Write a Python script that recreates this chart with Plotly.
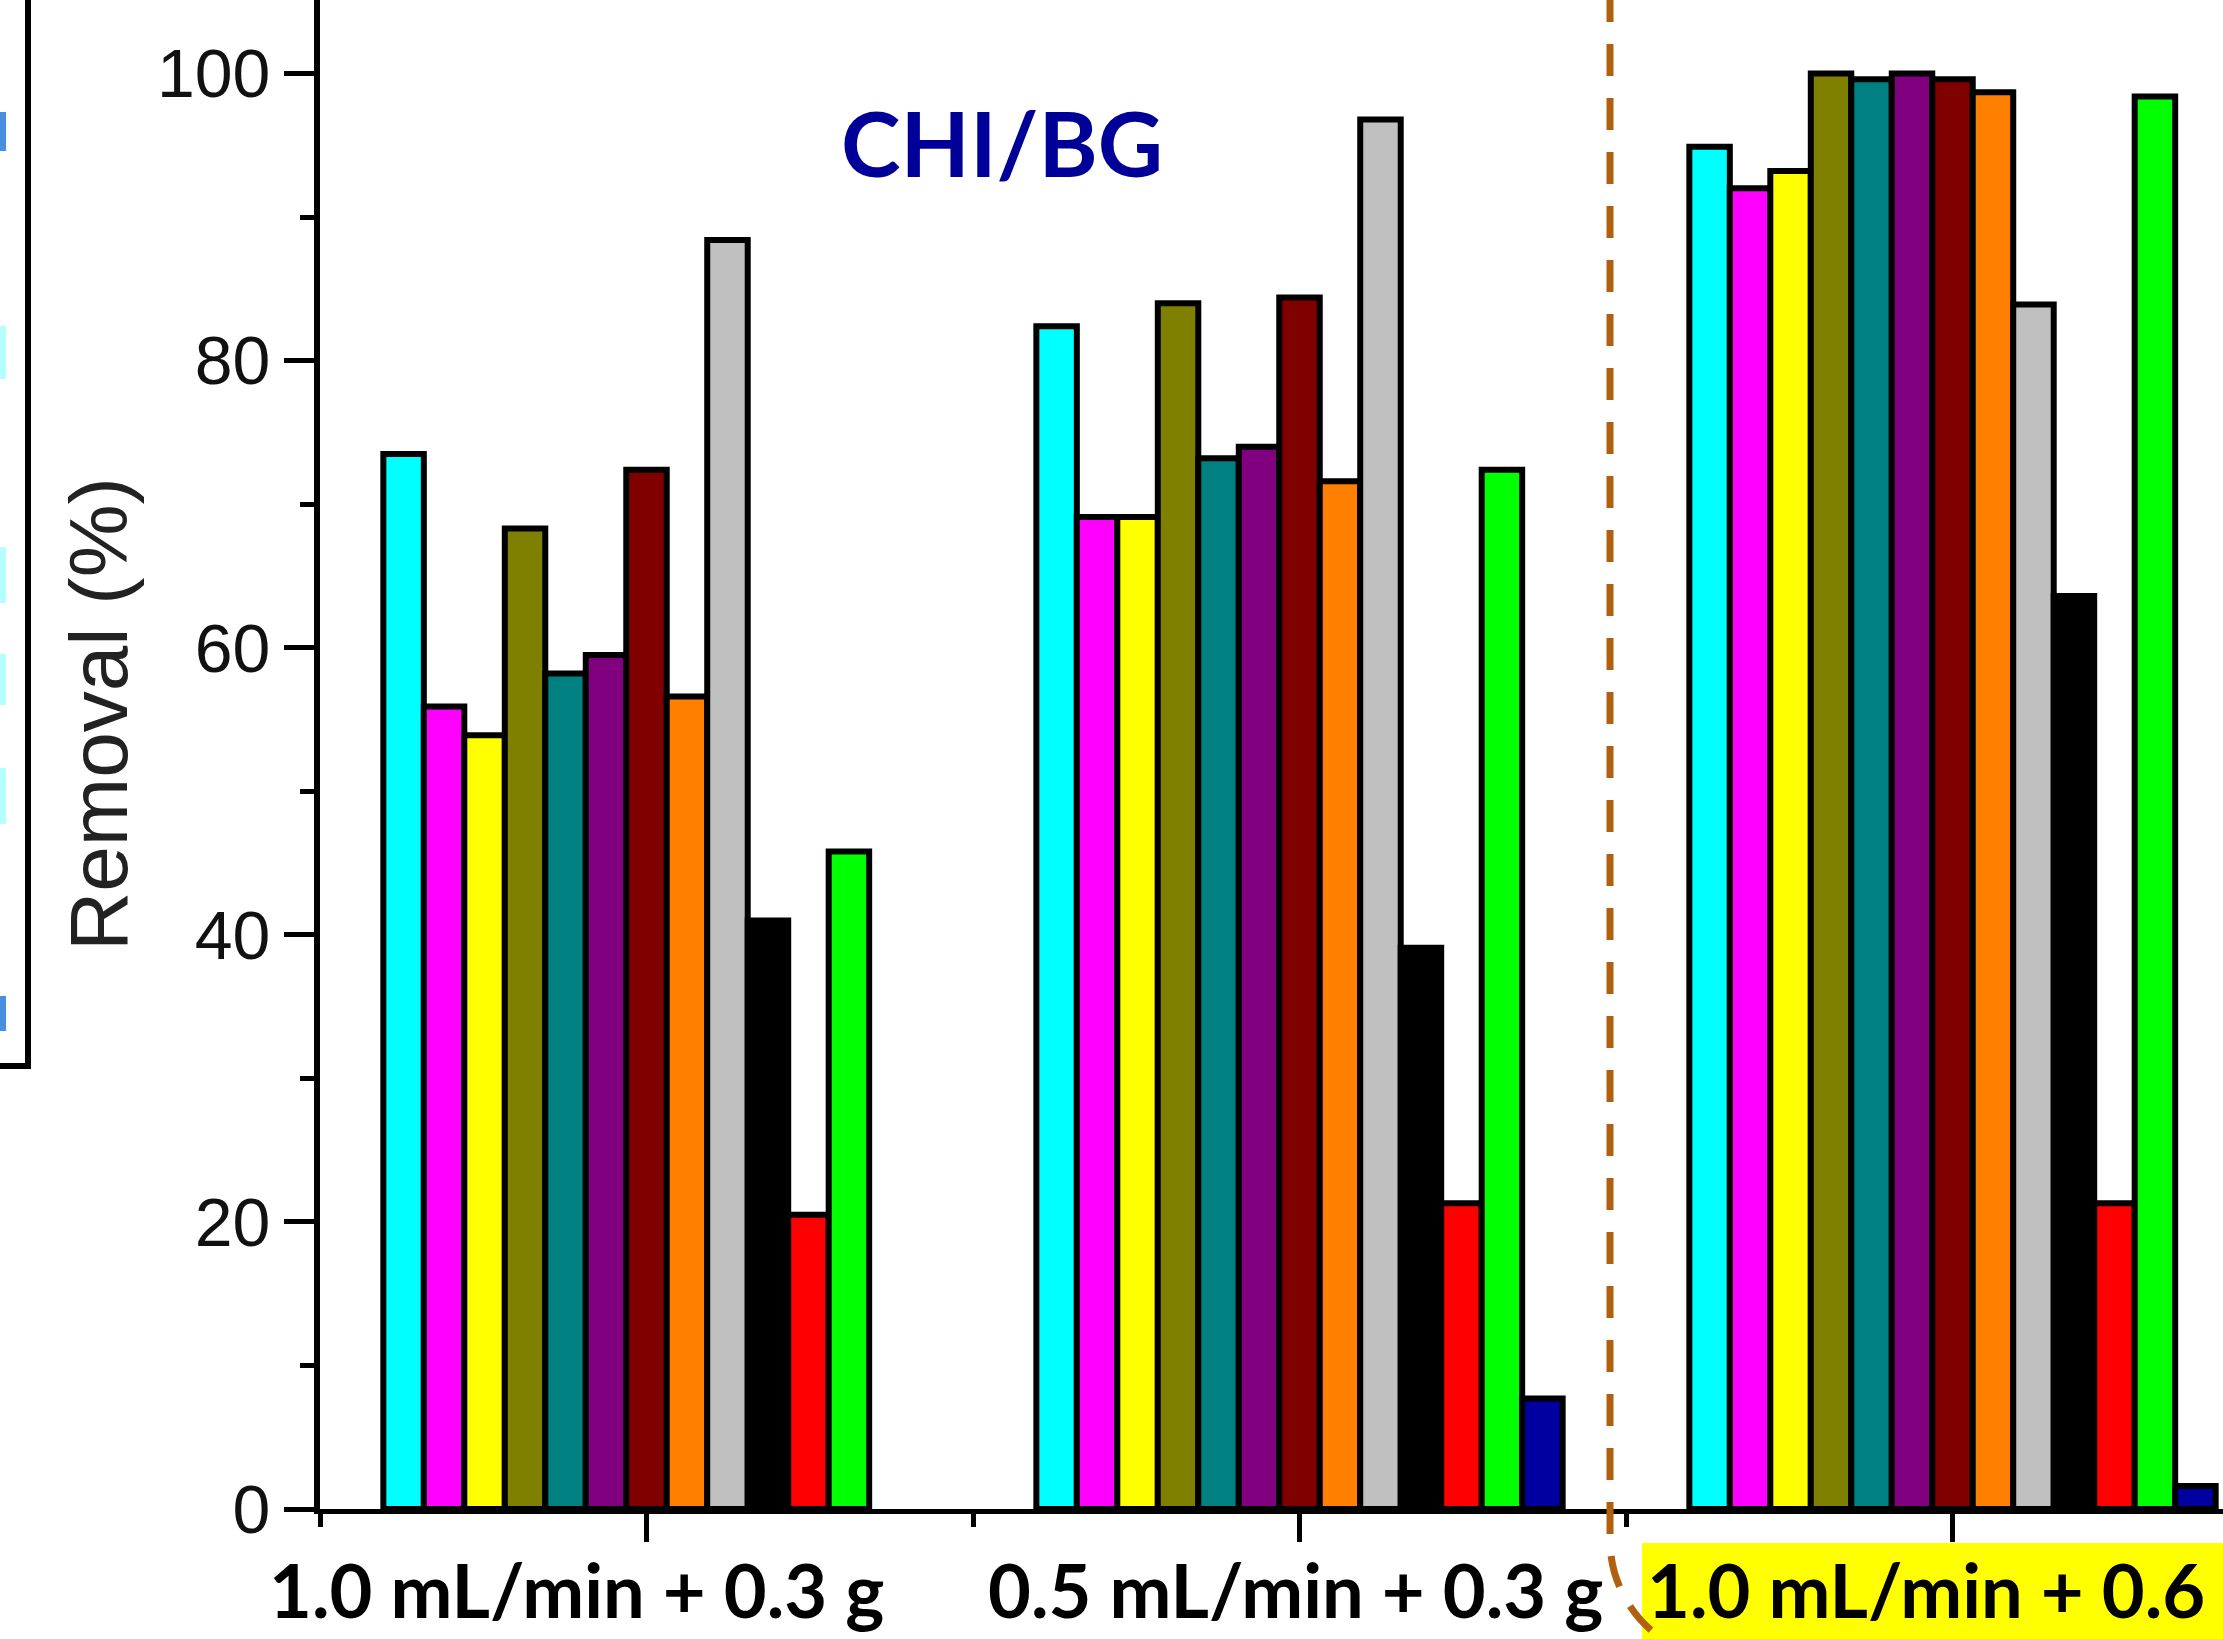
import plotly.graph_objects as go

# ---- data ----
groups = [0, 1, 2]
group_labels = ["1.0 mL/min + 0.3 g", "0.5 mL/min + 0.3 g", "1.0 mL/min + 0.6 g"]
series_colors = ["#00FFFF", "#FF00FF", "#FFFF00", "#808000", "#008080", "#800080",
                 "#800000", "#FF8000", "#C0C0C0", "#000000", "#FF0000", "#00FF00", "#0000A0"]
s_cyan    = [73.5, 82.4, 94.9]
s_magenta = [55.9, 69.1, 92.0]
s_yellow  = [53.9, 69.1, 93.2]
s_olive   = [68.3, 84.0, 100.0]
s_teal    = [58.2, 73.2, 99.6]
s_purple  = [59.5, 74.0, 100.0]
s_maroon  = [72.4, 84.4, 99.6]
s_orange  = [56.6, 71.6, 98.7]
s_silver  = [88.4, 96.8, 83.9]
s_black   = [41.0, 39.1, 63.6]
s_red     = [20.5, 21.3, 21.3]
s_lime    = [45.8, 72.4, 98.4]
s_navy    = [None, 7.7, 1.6]
series = [s_cyan, s_magenta, s_yellow, s_olive, s_teal, s_purple, s_maroon,
          s_orange, s_silver, s_black, s_red, s_lime, s_navy]
y_ticks = [0, 20, 40, 60, 80, 100]

W, H = 2223, 1639
L, R, T, B = 320, 0, 0, 130
PW, PH = W - L - R, H - T - B

def X(px):
    return (px - L) / PW

def Y(py):
    return (H - B - py) / PH

fig = go.Figure()
for vals, col in zip(series, series_colors):
    fig.add_trace(go.Bar(x=groups, y=vals, marker=dict(color=col, line=dict(color="black", width=6)),
                         showlegend=False))

px_per_unit = 14.355
fig.update_layout(
    width=W, height=H,
    margin=dict(l=L, r=R, t=T, b=B, pad=0, autoexpand=False),
    paper_bgcolor="white", plot_bgcolor="white",
    barmode="group", bargap=0.194, bargroupgap=0,
    xaxis=dict(range=[-0.5, -0.5 + PW / 653.0], showgrid=False, zeroline=False,
               showline=True, linecolor="black", linewidth=5,
               tickmode="linear", tick0=0, dtick=1, ticks="outside", ticklen=28,
               tickwidth=5, tickcolor="black", showticklabels=False,
               minor=dict(tickmode="linear", tick0=-0.5, dtick=1, ticks="outside",
                          ticklen=13, tickwidth=5, tickcolor="black"),
               automargin=False),
    yaxis=dict(range=[0, PH / px_per_unit], showgrid=False, zeroline=False,
               showline=True, linecolor="black", linewidth=6,
               tickmode="array", tickvals=y_ticks, ticks="outside", ticklen=30,
               tickwidth=5, tickcolor="black",
               tickfont=dict(family="Liberation Sans", size=68, color="#111111"),
               minor=dict(tickmode="linear", tick0=10, dtick=20, ticks="outside",
                          ticklen=14, tickwidth=5, tickcolor="black"),
               automargin=False),
)

shapes = []
# legend box fragment at left edge
shapes.append(dict(type="rect", xref="paper", yref="paper", x0=X(-30), x1=X(28), y0=Y(1066), y1=Y(-30),
                   line=dict(color="black", width=6), fillcolor="rgba(0,0,0,0)"))
frag = [(112, 151, "#4A8FDF"), (326, 379, "#B5FFFF"), (547, 603, "#B5FFFF"),
        (654, 705, "#B5FFFF"), (768, 824, "#B5FFFF"), (996, 1031, "#4A8FDF")]
for a, b, c in frag:
    shapes.append(dict(type="rect", xref="paper", yref="paper", x0=X(0), x1=X(6), y0=Y(b), y1=Y(a),
                       line=dict(width=0), fillcolor=c))
# yellow highlight
shapes.append(dict(type="rect", xref="paper", yref="paper", x0=X(1642), x1=X(2300), y0=Y(1700), y1=Y(1543),
                   line=dict(width=0), fillcolor="#FFFF00", layer="below"))
# dashed brown outline
path = "M {:.5f},{:.5f} L {:.5f},{:.5f} C {:.5f},{:.5f} {:.5f},{:.5f} {:.5f},{:.5f}".format(
    X(1610), Y(-10), X(1610), Y(1540), X(1610), Y(1606), X(1664), Y(1660), X(1730), Y(1660))
shapes.append(dict(type="path", xref="paper", yref="paper", path=path,
                   line=dict(color="#B0600E", width=7, dash="32px,22px")))
fig.update_layout(shapes=shapes)

ann = []
ann.append(dict(text="CHI/BG", xref="paper", yref="paper", x=X(1002), y=Y(142), showarrow=False,
                xanchor="center", yanchor="middle",
                font=dict(family="Lato", size=90, color="#000099", weight="bold")))
ann.append(dict(text="Removal (%)", xref="paper", yref="paper", x=X(98), y=Y(714), showarrow=False,
                textangle=-90, xanchor="center", yanchor="middle",
                font=dict(family="Liberation Sans", size=82, color="#222222")))
lab_x = [(576, "center"), (1295, "center"), (1645, "left")]
for (px, anc), t in zip(lab_x, group_labels):
    ann.append(dict(text=t, xref="paper", yref="paper", x=X(px), y=Y(1589), showarrow=False,
                    xanchor=anc, yanchor="middle",
                    font=dict(family="Lato", size=74, color="black", weight="bold")))
fig.update_layout(annotations=ann)

fig.write_html("out.html", config={"displayModeBar": False},
               post_script="document.body.style.margin='0';document.body.style.padding='0';"
                           "document.body.style.overflow='hidden';")
